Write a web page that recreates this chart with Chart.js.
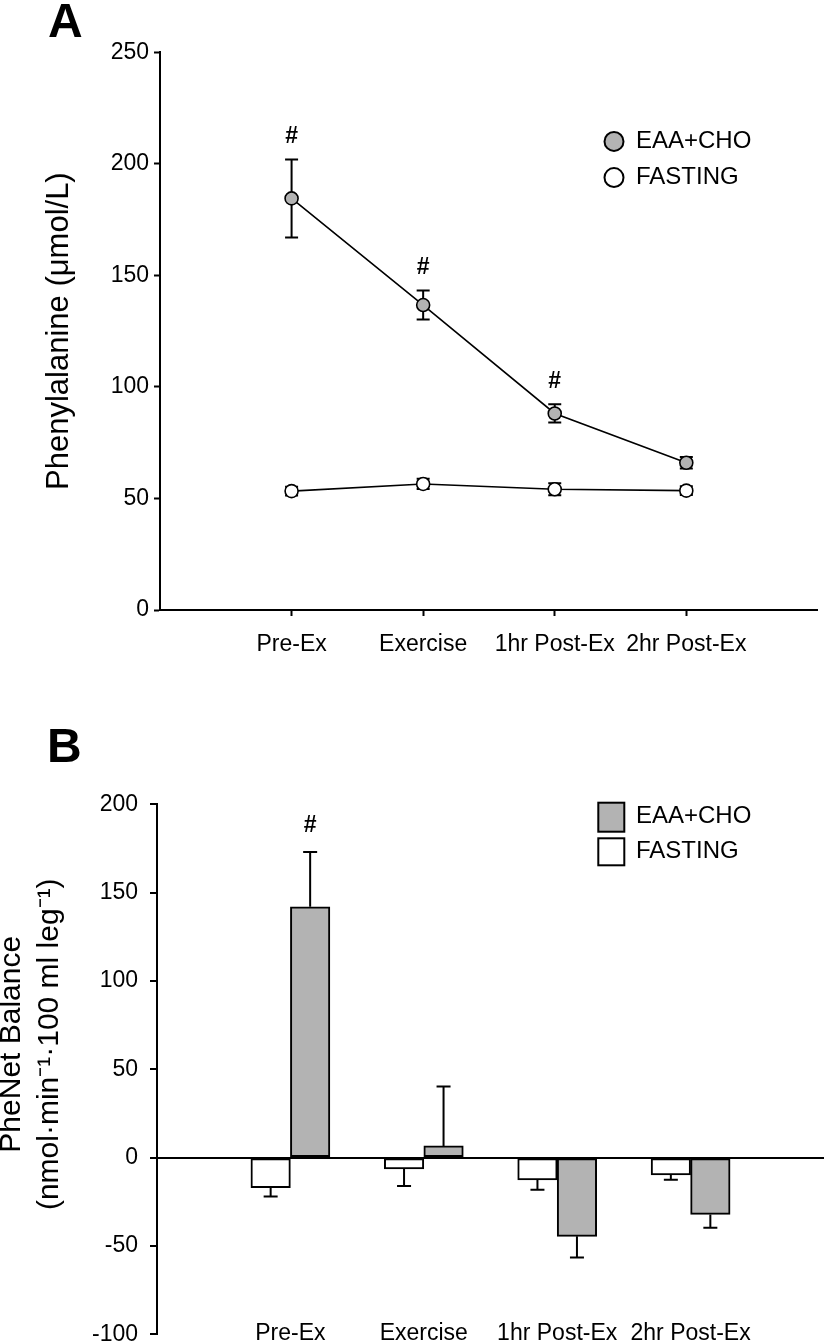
<!DOCTYPE html>
<html>
<head>
<meta charset="utf-8">
<script src="https://cdn.jsdelivr.net/npm/chart.js@4.4.1/dist/chart.umd.min.js"></script>
<style>
html, body { margin: 0; padding: 0; background: #fff; overflow: hidden; width: 826px; height: 1344px; }
canvas { position: absolute; left: 0; }
#cA { top: 0; }
#cB { top: 690px; }
</style>
</head>
<body>
<canvas id="cA" width="826" height="690"></canvas>
<canvas id="cB" width="826" height="670"></canvas>
<script>
// ---------- data ----------
const categories = ['Pre-Ex', 'Exercise', '1hr Post-Ex', '2hr Post-Ex'];
const seriesNames = ['EAA+CHO', 'FASTING'];

// Panel A: Phenylalanine (µmol/L)
const pheEAA      = [184.5, 136.7, 88.1, 66.0];
const pheEAAErr   = [17.5, 6.5, 4.1, 2.6];
const pheFast     = [53.3, 56.5, 54.1, 53.5];
const pheFastErr  = [2.0, 2.3, 2.7, 2.0];
const pheEAASig   = [true, true, true, false];
const yTicksA     = [0, 50, 100, 150, 200, 250];

// Panel B: PheNet Balance
const balEAA      = [142.0, 6.6, -44.6, -32.2];
const balEAAErr   = [31.0, 33.7, 12.0, 7.5];
const balFast     = [-17.0, -6.4, -12.7, -9.8];
const balFastErr  = [5.0, 9.7, 5.5, 2.8];
const balEAASig   = [true, false, false, false];
const yTicksB     = [-100, -50, 0, 50, 100, 150, 200];

const titleA = 'Phenylalanine (μmol/L)';
const titleB = ['PheNet Balance', '(nmol·min⁻¹·100 ml leg⁻¹)'];

// ---------- styling ----------
const FONT = '"Liberation Sans", Arial, Helvetica, sans-serif';
const GRAY = '#b3b3b3';
Chart.defaults.font.family = FONT;
Chart.defaults.color = '#000';

const toXY = arr => arr.map((v, i) => ({ x: i + 1, y: v }));
const catTicks = s => { s.ticks = categories.map((c, i) => ({ value: i + 1 })); };

// error bars + significance marks
function drawErrors(chart, opts) {
  const ctx = chart.ctx;
  const ys = chart.scales.y;
  chart.data.datasets.forEach((ds, di) => {
    if (!ds.errors) return;
    const meta = chart.getDatasetMeta(di);
    meta.data.forEach((el, i) => {
      const v = ds.data[i].y;
      const e = ds.errors[i];
      const x = el.x;
      let lo, hi;
      if (opts.oneSided) { const s = v >= 0 ? 1 : -1; lo = v; hi = v + s * e; }
      else { lo = v - e; hi = v + e; }
      const pLo = ys.getPixelForValue(lo), pHi = ys.getPixelForValue(hi);
      ctx.save();
      ctx.strokeStyle = '#000';
      ctx.lineWidth = opts.width;
      ctx.beginPath();
      ctx.moveTo(x, pLo); ctx.lineTo(x, pHi);
      const caps = opts.oneSided ? [pHi] : [pLo, pHi];
      caps.forEach(cy => { ctx.moveTo(x - opts.cap, cy); ctx.lineTo(x + opts.cap, cy); });
      ctx.stroke();
      if (ds.sig && ds.sig[i]) {
        const top = ys.getPixelForValue(Math.max(lo, hi));
        ctx.fillStyle = '#000';
        ctx.font = 'bold 23px ' + FONT;
        ctx.textAlign = 'center';
        ctx.textBaseline = 'middle';
        ctx.fillText('#', x, top - opts.sigGap);
      }
      ctx.restore();
    });
  });
}
const errorBars = {
  id: 'errorBars',
  beforeDatasetsDraw(chart, args, opts) { if (opts.layer === 'before') drawErrors(chart, opts); },
  afterDatasetsDraw(chart, args, opts) { if (opts.layer !== 'before') drawErrors(chart, opts); }
};

// legend + panel letter
const decor = {
  id: 'decor',
  afterDraw(chart, args, opts) {
    const ctx = chart.ctx;
    ctx.save();
    ctx.fillStyle = '#000';
    ctx.font = 'bold 48px ' + FONT;
    ctx.textAlign = 'left';
    ctx.textBaseline = 'alphabetic';
    ctx.fillText(opts.letter, opts.letterX, opts.letterY);
    opts.items.forEach(it => {
      const ds = chart.data.datasets[it.ds];
      ctx.lineWidth = 2;
      ctx.strokeStyle = '#000';
      ctx.fillStyle = it.fill;
      if (opts.shape === 'circle') {
        ctx.beginPath();
        ctx.arc(it.mx, it.my, it.r, 0, Math.PI * 2);
        ctx.fill(); ctx.stroke();
      } else {
        ctx.fillRect(it.mx, it.my, it.w, it.h);
        ctx.strokeRect(it.mx, it.my, it.w, it.h);
      }
      ctx.fillStyle = '#000';
      ctx.font = '24px ' + FONT;
      ctx.textBaseline = 'middle';
      ctx.fillText(ds.label, opts.textX, it.ty);
    });
    ctx.restore();
  }
};

const axisGrid = { drawOnChartArea: false, drawTicks: true, tickLength: 6, tickColor: '#000', tickWidth: 2, offset: false };
const axisBorder = { display: true, color: '#000', width: 2 };

// ---------- Panel A ----------
new Chart(document.getElementById('cA'), {
  type: 'line',
  data: {
    datasets: [
      { label: seriesNames[0], data: toXY(pheEAA), errors: pheEAAErr, sig: pheEAASig,
        borderColor: '#000', borderWidth: 1.6, pointRadius: 6.5, pointBorderWidth: 1.6,
        pointBackgroundColor: GRAY, pointBorderColor: '#000', tension: 0, fill: false },
      { label: seriesNames[1], data: toXY(pheFast), errors: pheFastErr,
        borderColor: '#000', borderWidth: 1.6, pointRadius: 6.5, pointBorderWidth: 1.6,
        pointBackgroundColor: '#fff', pointBorderColor: '#000', tension: 0, fill: false }
    ]
  },
  options: {
    responsive: false, animation: false, devicePixelRatio: 1,
    layout: { padding: { top: 52.3, right: 4.5, left: 0, bottom: 0 } },
    plugins: {
      legend: { display: false }, tooltip: { enabled: false },
      errorBars: { layer: 'before', width: 2, cap: 6.5, sigGap: 23 },
      decor: {
        letter: 'A', letterX: 48, letterY: 36.5, shape: 'circle', textX: 636,
        items: [
          { ds: 0, fill: GRAY, mx: 614, my: 141.4, r: 9.5, ty: 141.4 },
          { ds: 1, fill: '#fff', mx: 614, my: 177.6, r: 9.5, ty: 177.6 }
        ]
      }
    },
    scales: {
      x: {
        type: 'linear', min: 0, max: 5, offset: false,
        afterBuildTicks: catTicks,
        afterFit: s => { s.height = 80; },
        ticks: { callback: v => categories[v - 1], font: { size: 23 }, color: '#000', padding: 14.5, autoSkip: false, maxRotation: 0 },
        grid: axisGrid, border: axisBorder
      },
      y: {
        min: 0, max: 250,
        afterBuildTicks: s => { s.ticks = yTicksA.map(v => ({ value: v })); },
        afterFit: s => { s.width = 160; },
        ticks: { font: { size: 23 }, color: '#000', padding: 5 },
        grid: axisGrid, border: axisBorder,
        title: { display: true, text: titleA, color: '#000', font: { size: 31 }, padding: { top: 40.7, bottom: 0 } }
      }
    }
  },
  plugins: [errorBars, decor]
});

// ---------- Panel B ----------
const pad = '\u00a0'.repeat(6);
new Chart(document.getElementById('cB'), {
  type: 'bar',
  data: {
    datasets: [
      { label: seriesNames[1], data: toXY(balFast), errors: balFastErr,
        backgroundColor: '#fff', borderColor: '#000', borderWidth: 2, borderSkipped: false },
      { label: seriesNames[0], data: toXY(balEAA), errors: balEAAErr, sig: balEAASig,
        backgroundColor: GRAY, borderColor: '#000', borderWidth: 2, borderSkipped: false }
    ]
  },
  options: {
    responsive: false, animation: false, devicePixelRatio: 1,
    layout: { padding: { top: 114.3, right: 2, left: 0, bottom: 0 } },
    datasets: { bar: { barThickness: 39.5 } },
    plugins: {
      legend: { display: false }, tooltip: { enabled: false },
      errorBars: { layer: 'after', oneSided: true, width: 2, cap: 7, sigGap: 26 },
      decor: {
        letter: 'B', letterX: 47, letterY: 72, shape: 'rect', textX: 636,
        items: [
          { ds: 1, fill: GRAY, mx: 598.3, my: 112.7, w: 26, h: 29, ty: 126.7 },
          { ds: 0, fill: '#fff', mx: 598.3, my: 148.3, w: 26, h: 27, ty: 161 }
        ]
      }
    },
    scales: {
      x: {
        type: 'linear', min: 0, max: 5, offset: false,
        afterBuildTicks: catTicks,
        afterFit: s => { s.height = 22.7; },
        ticks: { callback: v => categories[v - 1], font: { size: 23 }, color: '#000', padding: -13.5, mirror: true, autoSkip: false, maxRotation: 0 },
        grid: { display: false, drawTicks: false, offset: false },
        border: { display: false }
      },
      y: {
        min: -100, max: 200,
        afterBuildTicks: s => { s.ticks = yTicksB.map(v => ({ value: v })); },
        afterFit: s => { s.width = 157; },
        ticks: { font: { size: 23 }, color: '#000', padding: 12 },
        grid: {
          drawOnChartArea: true, drawTicks: true, tickLength: 7, tickColor: '#000', tickWidth: 2,
          lineWidth: 2,
          color: c => (c.tick && c.tick.value === 0) ? '#000' : 'rgba(0,0,0,0)'
        },
        border: axisBorder,
        title: { display: true, text: titleB.map(t => pad + t), color: '#000',
                 font: { size: 30, lineHeight: 38 / 30 }, padding: { top: -7.4, bottom: 0 } }
      }
    }
  },
  plugins: [errorBars, decor]
});
</script>
</body>
</html>
